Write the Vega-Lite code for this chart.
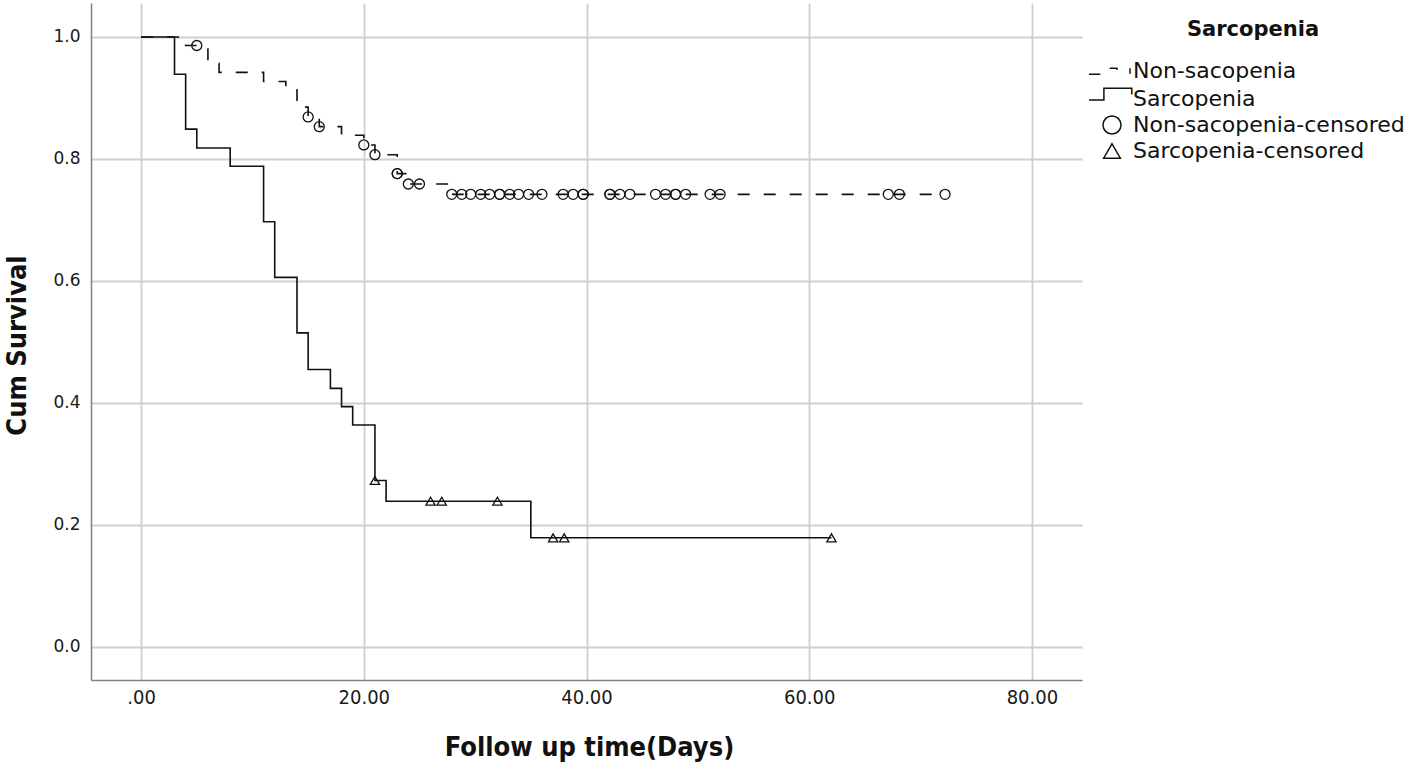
{
  "$schema": "https://vega.github.io/schema/vega-lite/v6.json",
  "width": 991,
  "height": 677,
  "autosize": {"type": "none"},
  "padding": {"left": 91, "top": 3, "right": 336, "bottom": 87},
  "background": "white",
  "config": {
    "view": {"stroke": null},
    "axis": {
      "grid": true,
      "gridColor": "#cfcfcf",
      "gridWidth": 1.8,
      "ticks": false,
      "domainColor": "#808080",
      "domainWidth": 1.5,
      "labelColor": "#1a1a1a",
      "titleColor": "#111111"
    }
  },
  "datasets": {
    "curves": [
      {"grp": "Non-sacopenia", "t": 0, "s": 1.0},
      {"grp": "Non-sacopenia", "t": 4, "s": 0.986},
      {"grp": "Non-sacopenia", "t": 6, "s": 0.957},
      {"grp": "Non-sacopenia", "t": 7, "s": 0.942},
      {"grp": "Non-sacopenia", "t": 11, "s": 0.927},
      {"grp": "Non-sacopenia", "t": 13, "s": 0.913},
      {"grp": "Non-sacopenia", "t": 14, "s": 0.885},
      {"grp": "Non-sacopenia", "t": 15, "s": 0.869},
      {"grp": "Non-sacopenia", "t": 16, "s": 0.853},
      {"grp": "Non-sacopenia", "t": 18, "s": 0.839},
      {"grp": "Non-sacopenia", "t": 20, "s": 0.823},
      {"grp": "Non-sacopenia", "t": 21, "s": 0.807},
      {"grp": "Non-sacopenia", "t": 23, "s": 0.776},
      {"grp": "Non-sacopenia", "t": 24, "s": 0.759},
      {"grp": "Non-sacopenia", "t": 28, "s": 0.742},
      {"grp": "Non-sacopenia", "t": 72, "s": 0.742},
      {"grp": "Sarcopenia", "t": 0, "s": 1.0},
      {"grp": "Sarcopenia", "t": 3, "s": 0.939},
      {"grp": "Sarcopenia", "t": 4, "s": 0.849},
      {"grp": "Sarcopenia", "t": 5, "s": 0.818},
      {"grp": "Sarcopenia", "t": 8, "s": 0.788},
      {"grp": "Sarcopenia", "t": 11, "s": 0.697},
      {"grp": "Sarcopenia", "t": 12, "s": 0.606},
      {"grp": "Sarcopenia", "t": 14, "s": 0.515},
      {"grp": "Sarcopenia", "t": 15, "s": 0.455},
      {"grp": "Sarcopenia", "t": 17, "s": 0.424},
      {"grp": "Sarcopenia", "t": 18, "s": 0.394},
      {"grp": "Sarcopenia", "t": 19, "s": 0.364},
      {"grp": "Sarcopenia", "t": 21, "s": 0.273},
      {"grp": "Sarcopenia", "t": 22, "s": 0.239},
      {"grp": "Sarcopenia", "t": 35, "s": 0.179},
      {"grp": "Sarcopenia", "t": 62, "s": 0.179}
    ],
    "censored": [
      {"kind": "Non-sacopenia-censored", "t": 5, "s": 0.986},
      {"kind": "Non-sacopenia-censored", "t": 15, "s": 0.869},
      {"kind": "Non-sacopenia-censored", "t": 16, "s": 0.853},
      {"kind": "Non-sacopenia-censored", "t": 20, "s": 0.823},
      {"kind": "Non-sacopenia-censored", "t": 21, "s": 0.807},
      {"kind": "Non-sacopenia-censored", "t": 23, "s": 0.776},
      {"kind": "Non-sacopenia-censored", "t": 23, "s": 0.776},
      {"kind": "Non-sacopenia-censored", "t": 24, "s": 0.759},
      {"kind": "Non-sacopenia-censored", "t": 25, "s": 0.759},
      {"kind": "Non-sacopenia-censored", "t": 27.9, "s": 0.742},
      {"kind": "Non-sacopenia-censored", "t": 28.8, "s": 0.742},
      {"kind": "Non-sacopenia-censored", "t": 29.6, "s": 0.742},
      {"kind": "Non-sacopenia-censored", "t": 30.5, "s": 0.742},
      {"kind": "Non-sacopenia-censored", "t": 31.3, "s": 0.742},
      {"kind": "Non-sacopenia-censored", "t": 32.2, "s": 0.742},
      {"kind": "Non-sacopenia-censored", "t": 32.2, "s": 0.742},
      {"kind": "Non-sacopenia-censored", "t": 33.1, "s": 0.742},
      {"kind": "Non-sacopenia-censored", "t": 33.9, "s": 0.742},
      {"kind": "Non-sacopenia-censored", "t": 34.8, "s": 0.742},
      {"kind": "Non-sacopenia-censored", "t": 36.0, "s": 0.742},
      {"kind": "Non-sacopenia-censored", "t": 37.9, "s": 0.742},
      {"kind": "Non-sacopenia-censored", "t": 38.8, "s": 0.742},
      {"kind": "Non-sacopenia-censored", "t": 39.7, "s": 0.742},
      {"kind": "Non-sacopenia-censored", "t": 39.7, "s": 0.742},
      {"kind": "Non-sacopenia-censored", "t": 42.1, "s": 0.742},
      {"kind": "Non-sacopenia-censored", "t": 42.1, "s": 0.742},
      {"kind": "Non-sacopenia-censored", "t": 43.0, "s": 0.742},
      {"kind": "Non-sacopenia-censored", "t": 43.9, "s": 0.742},
      {"kind": "Non-sacopenia-censored", "t": 46.2, "s": 0.742},
      {"kind": "Non-sacopenia-censored", "t": 47.1, "s": 0.742},
      {"kind": "Non-sacopenia-censored", "t": 48.0, "s": 0.742},
      {"kind": "Non-sacopenia-censored", "t": 48.0, "s": 0.742},
      {"kind": "Non-sacopenia-censored", "t": 48.9, "s": 0.742},
      {"kind": "Non-sacopenia-censored", "t": 51.1, "s": 0.742},
      {"kind": "Non-sacopenia-censored", "t": 52.0, "s": 0.742},
      {"kind": "Non-sacopenia-censored", "t": 67.1, "s": 0.742},
      {"kind": "Non-sacopenia-censored", "t": 68.1, "s": 0.742},
      {"kind": "Non-sacopenia-censored", "t": 72.2, "s": 0.742},
      {"kind": "Sarcopenia-censored", "t": 21, "s": 0.273},
      {"kind": "Sarcopenia-censored", "t": 26, "s": 0.239},
      {"kind": "Sarcopenia-censored", "t": 27, "s": 0.239},
      {"kind": "Sarcopenia-censored", "t": 32, "s": 0.239},
      {"kind": "Sarcopenia-censored", "t": 37, "s": 0.179},
      {"kind": "Sarcopenia-censored", "t": 38, "s": 0.179},
      {"kind": "Sarcopenia-censored", "t": 62, "s": 0.179}
    ]
  },
  "layer": [
    {
      "data": {"name": "curves"},
      "mark": {"type": "line", "interpolate": "step-after", "strokeWidth": 1.6, "color": "#111111"},
      "encoding": {
        "x": {
          "field": "t", "type": "quantitative",
          "scale": {"domain": [-4.5, 84.5], "nice": false, "zero": false},
          "axis": {
            "values": [0, 20, 40, 60, 80],
            "labelExpr": "datum.value == 0 ? '.00' : format(datum.value, '.2f')",
            "labelFont": "'DejaVu Sans Condensed', 'DejaVu Sans'",
            "labelFontSize": 20,
            "labelPadding": 7,
            "title": "Follow up time(Days)",
            "titleFont": "'DejaVu Sans Condensed', 'DejaVu Sans'",
            "titleFontSize": 27,
            "titleFontWeight": "bold",
            "titleX": 498,
            "titleY": 67,
            "titleBaseline": "middle",
            "titleAlign": "center"
          }
        },
        "y": {
          "field": "s", "type": "quantitative",
          "scale": {"domain": [-0.0541, 1.0557], "nice": false, "zero": false},
          "axis": {
            "values": [0, 0.2, 0.4, 0.6, 0.8, 1.0],
            "format": ".1f",
            "labelFont": "DejaVu Sans",
            "labelFontSize": 17,
            "labelPadding": 11,
            "title": "Cum Survival",
            "titleFont": "'DejaVu Sans Condensed', 'DejaVu Sans'",
            "titleFontSize": 27,
            "titleFontWeight": "bold",
            "titleAngle": -90,
            "titleX": -74,
            "titleY": 342,
            "titleBaseline": "middle",
            "titleAlign": "center"
          }
        },
        "strokeDash": {
          "field": "grp", "type": "nominal",
          "scale": {"domain": ["Non-sacopenia", "Sarcopenia"], "range": [[12, 14], [1, 0]]},
          "legend": null
        }
      }
    },
    {
      "data": {"name": "censored"},
      "mark": {"type": "point", "filled": false, "color": "#111111", "size": 100, "strokeWidth": 1.3, "opacity": 1},
      "encoding": {
        "x": {"field": "t", "type": "quantitative"},
        "y": {"field": "s", "type": "quantitative"},
        "shape": {
          "field": "kind", "type": "nominal",
          "scale": {
            "domain": ["Non-sacopenia", "Sarcopenia", "Non-sacopenia-censored", "Sarcopenia-censored"],
            "range": [
              "M-2.55,0.35 L-1.3,0.35 M-0.25,-0.3 L0.55,-0.3 L0.55,-0.1 M2.0,-0.3 L2.0,0.3",
              "M-2.55,0.1 L-0.9,0.1 L-0.9,-1.2 L2.2,-1.2 L2.2,-0.5",
              "circle",
              "M0,-0.8 L0.93,0.8 L-0.93,0.8 Z"
            ]
          },
          "legend": {
            "title": "Sarcopenia",
            "orient": "none",
            "legendX": 1010,
            "legendY": 16,
            "padding": 0,
            "titleFont": "DejaVu Sans",
            "titleFontSize": 21,
            "titleFontWeight": "bold",
            "titleColor": "#111111",
            "titleAnchor": "middle",
            "titlePadding": 20,
            "titleLimit": 400,
            "labelFont": "DejaVu Sans",
            "labelFontSize": 22,
            "labelColor": "#111111",
            "labelOffset": 10,
            "labelLimit": 400,
            "rowPadding": 3,
            "symbolSize": 324,
            "symbolStrokeWidth": 1.5,
            "symbolStrokeColor": "#111111",
            "symbolFillColor": "transparent",
            "encode": {"title": {"update": {"dx": {"value": 12}}}}
          }
        }
      }
    }
  ]
}
